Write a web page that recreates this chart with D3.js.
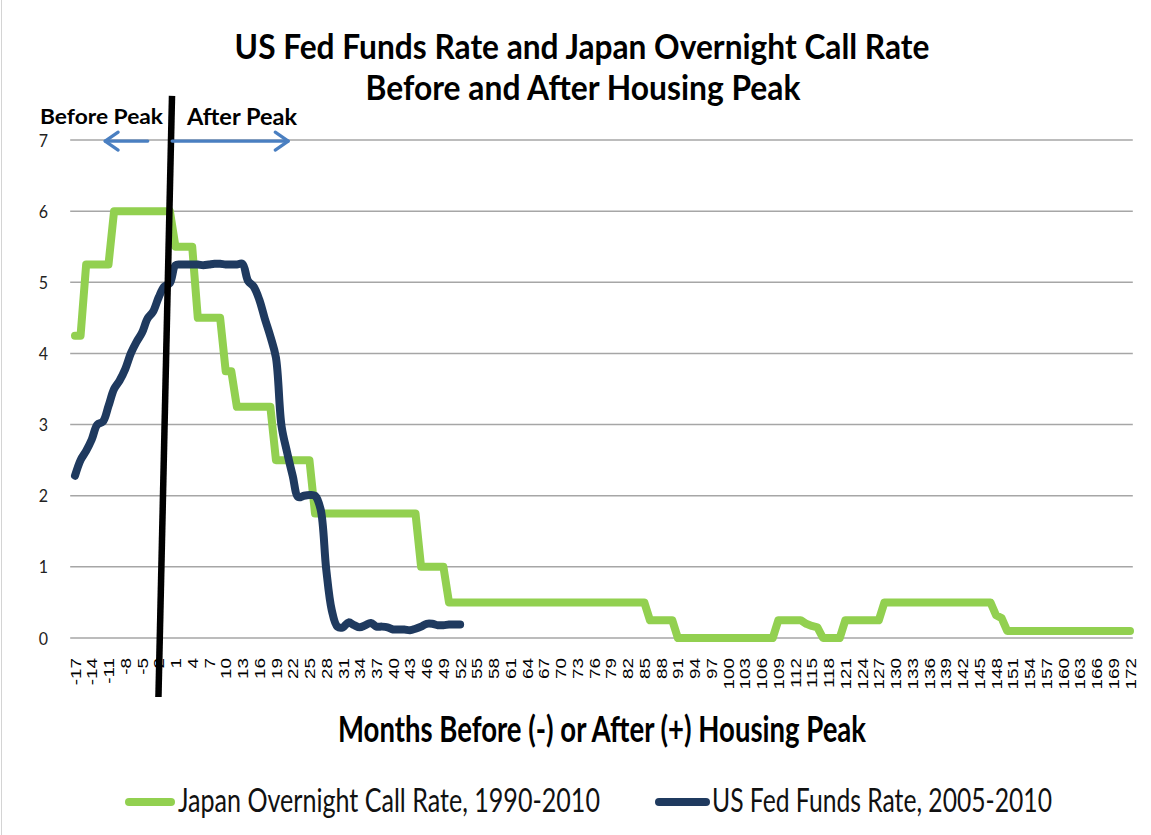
<!DOCTYPE html>
<html><head><meta charset="utf-8">
<script src="https://cdn.jsdelivr.net/npm/d3@7/dist/d3.min.js"></script>
<style>html,body{margin:0;padding:0;background:#fff}svg{display:block}</style>
</head><body>
<svg id="chart" width="1151" height="835"></svg>
<script>
// ---------------- DATA ----------------
// Months before (-) or after (+) the housing peak
const months = [
 -17,-16,-15,-14,-13,-12,-11,-10,-9,-8,
 -7,-6,-5,-4,-3,-2,-1,0,1,2,
 3,4,5,6,7,8,9,10,11,12,
 13,14,15,16,17,18,19,20,21,22,
 23,24,25,26,27,28,29,30,31,32,
 33,34,35,36,37,38,39,40,41,42,
 43,44,45,46,47,48,49,50,51,52,
 53,54,55,56,57,58,59,60,61,62,
 63,64,65,66,67,68,69,70,71,72,
 73,74,75,76,77,78,79,80,81,82,
 83,84,85,86,87,88,89,90,91,92,
 93,94,95,96,97,98,99,100,101,102,
 103,104,105,106,107,108,109,110,111,112,
 113,114,115,116,117,118,119,120,121,122,
 123,124,125,126,127,128,129,130,131,132,
 133,134,135,136,137,138,139,140,141,142,
 143,144,145,146,147,148,149,150,151,152,
 153,154,155,156,157,158,159,160,161,162,
 163,164,165,166,167,168,169,170,171,172
];

// Japan overnight call rate, 1990-2010 (one value per month above)
const japanRate = [
 4.25,4.25,5.25,5.25,5.25,5.25,5.25,6,6,6,
 6,6,6,6,6,6,6,6,5.5,5.5,
 5.5,5.5,4.5,4.5,4.5,4.5,4.5,3.75,3.75,3.25,
 3.25,3.25,3.25,3.25,3.25,3.25,2.5,2.5,2.5,2.5,
 2.5,2.5,2.5,1.75,1.75,1.75,1.75,1.75,1.75,1.75,
 1.75,1.75,1.75,1.75,1.75,1.75,1.75,1.75,1.75,1.75,
 1.75,1.75,1,1,1,1,1,0.5,0.5,0.5,
 0.5,0.5,0.5,0.5,0.5,0.5,0.5,0.5,0.5,0.5,
 0.5,0.5,0.5,0.5,0.5,0.5,0.5,0.5,0.5,0.5,
 0.5,0.5,0.5,0.5,0.5,0.5,0.5,0.5,0.5,0.5,
 0.5,0.5,0.5,0.25,0.25,0.25,0.25,0.25,0,0,
 0,0,0,0,0,0,0,0,0,0,
 0,0,0,0,0,0,0.25,0.25,0.25,0.25,
 0.25,0.2,0.17,0.15,0,0,0,0,0.25,0.25,
 0.25,0.25,0.25,0.25,0.25,0.5,0.5,0.5,0.5,0.5,
 0.5,0.5,0.5,0.5,0.5,0.5,0.5,0.5,0.5,0.5,
 0.5,0.5,0.5,0.5,0.5,0.32,0.28,0.1,0.1,0.1,
 0.1,0.1,0.1,0.1,0.1,0.1,0.1,0.1,0.1,0.1,
 0.1,0.1,0.1,0.1,0.1,0.1,0.1,0.1,0.1,0.1
];

// US fed funds rate, 2005-2010 (months -17 .. 52)
const usRate = [
 2.28,2.50,2.63,2.79,3.00,3.04,3.26,3.50,3.62,3.78,4.00,4.16,
 4.29,4.49,4.59,4.79,4.94,4.99,5.24,5.25,5.25,5.25,5.25,5.24,
 5.25,5.26,5.26,5.25,5.25,5.25,5.26,5.02,4.94,4.76,4.49,4.24,
 3.94,2.98,2.61,2.28,1.98,2.00,2.01,2.00,1.81,0.97,0.39,0.16,
 0.15,0.22,0.18,0.15,0.18,0.21,0.16,0.16,0.15,0.12,0.12,0.12,
 0.11,0.13,0.16,0.20,0.20,0.18,0.18,0.19,0.19,0.19
];

const yTicks = [0,1,2,3,4,5,6,7];
const seriesNames = ["Japan Overnight Call Rate, 1990-2010", "US Fed Funds Rate, 2005-2010"];
const titleLines = ["US Fed Funds Rate and Japan Overnight Call Rate", "Before and After Housing Peak"];
const xTitle = "Months Before (-) or After (+) Housing Peak";
const beforeLabel = "Before Peak", afterLabel = "After Peak";

// ---------------- LAYOUT ----------------
const W = 1151, H = 835;
const plot = {left: 72.2, right: 1132.8, top: 140, bottom: 638};
const S = 1.3;            // vertical stretch of the reference's text
const GREEN = "#92d050", NAVY = "#1f3a5f", ARROW = "#4a7fc1";

const svg = d3.select("#chart");
svg.append("rect").attr("width", W).attr("height", H).attr("fill", "#fff");
svg.append("line").attr("x1", 1.5).attr("x2", 1.5).attr("y1", 0).attr("y2", H)
   .attr("stroke", "#d4d4d4").attr("stroke-width", 1);

const x = d3.scalePoint().domain(months).range([plot.left, plot.right]).padding(0.5);
const step = x.step();
const xm = m => x(0) + m * step;          // continuous month position (for annotations)
const y = d3.scaleLinear().domain([0, 7]).range([plot.bottom, plot.top]);

// text helper: stretched vertically like the reference; optional fit-to-width
function label(parent, px, py, str, o) {
  const g = parent.append("g").attr("transform", `translate(${px},${py}) scale(1,${o.stretch || S})`);
  const t = g.append("text")
    .attr("text-anchor", o.anchor || "start")
    .attr("font-family", o.family || "Lato, 'Open Sans', sans-serif")
    .attr("font-weight", o.weight || "normal")
    .attr("font-size", o.size)
    .attr("fill", o.fill || "#000")
    .text(str);
  if (o.width) {
    const w = t.node().getComputedTextLength();
    if (w > 0) t.attr("font-size", o.size * o.width / w);
  }
  return t;
}

// gridlines
svg.append("g").selectAll("line").data(yTicks).join("line")
  .attr("x1", plot.left - 2).attr("x2", plot.right)
  .attr("y1", d => y(d)).attr("y2", d => y(d))
  .attr("stroke", "#a6a6a6").attr("stroke-width", 1.5);

// y labels
const yl = svg.append("g");
yTicks.forEach(v => label(yl, 48, y(v) + 6.5, String(v), {anchor: "end", size: 16, stretch: 1.12, fill: "#222"}));

// x axis labels (every 3rd month)
const xTickVals = months.filter((d, i) => i % 3 === 0);
const xAxis = d3.axisBottom(x).tickValues(xTickVals).tickSize(0).tickPadding(0);
const gx = svg.append("g").attr("transform", `translate(0,${plot.bottom})`).call(xAxis);
gx.select(".domain").remove();
gx.selectAll("text")
  .attr("x", 0).attr("y", 0).attr("dy", "0.35em")
  .attr("text-anchor", "end")
  .attr("transform", `translate(0,20) rotate(-90) scale(${S},1)`)
  .attr("font-family", "'Liberation Sans', Arial, sans-serif")
  .attr("font-size", 14.5).attr("fill", "#000");

// series lines
const japanPts = months.map((m, i) => ({m, v: japanRate[i]}));
const usPts = usRate.map((v, i) => ({m: months[i], v}));

svg.append("path").datum(japanPts)
  .attr("d", d3.line().x(d => x(d.m)).y(d => y(d.v)))
  .attr("fill", "none").attr("stroke", GREEN).attr("stroke-width", 8)
  .attr("stroke-linejoin", "round").attr("stroke-linecap", "round");

svg.append("path").datum(usPts)
  .attr("d", d3.line().x(d => x(d.m)).y(d => y(d.v)).curve(d3.curveCatmullRom.alpha(0.5)))
  .attr("fill", "none").attr("stroke", NAVY).attr("stroke-width", 8)
  .attr("stroke-linejoin", "round").attr("stroke-linecap", "round");

// peak marker line (month / rate units)
const peakLine = [{m: 0.38, v: 7.62}, {m: -2.05, v: -0.83}];
svg.append("line")
  .attr("x1", xm(peakLine[0].m)).attr("y1", y(peakLine[0].v))
  .attr("x2", xm(peakLine[1].m)).attr("y2", y(peakLine[1].v))
  .attr("stroke", "#000").attr("stroke-width", 6.5);

// arrows
function arrow(m1, m2, v) {
  const x1 = xm(m1), x2 = xm(m2), yy = y(v);
  const dir = Math.sign(x2 - x1);
  const g = svg.append("g").attr("stroke", ARROW).attr("stroke-width", 3.2)
    .attr("fill", "none").attr("stroke-linecap", "round").attr("stroke-linejoin", "round");
  g.append("line").attr("x1", x1).attr("x2", x2).attr("y1", yy).attr("y2", yy);
  g.append("path").attr("d", `M${x2 - dir * 13},${yy - 9} L${x2},${yy} L${x2 - dir * 13},${yy + 9}`);
}
arrow(-3.96, -11.6, 6.985);
arrow(0.4, 21.2, 6.985);

// annotation texts
label(svg, 40, 124, beforeLabel, {size: 19, weight: "bold", width: 123, stretch: 0.95});
label(svg, 187, 124.5, afterLabel, {size: 19, weight: "bold", width: 110, stretch: 0.95});

// titles
label(svg, 582, 59, titleLines[0], {anchor: "middle", size: 27, weight: "bold", width: 695, stretch: 1.1});
label(svg, 583, 100, titleLines[1], {anchor: "middle", size: 27, weight: "bold", width: 435, stretch: 1.1});
label(svg, 602, 742, xTitle, {anchor: "middle", size: 22, weight: "bold", width: 528});

// legend
const lg = svg.append("g");
const legendItems = [
  {name: seriesNames[0], color: GREEN, x1: 129, x2: 171, tx: 178, tw: 422},
  {name: seriesNames[1], color: NAVY, x1: 659, x2: 706, tx: 712, tw: 340}
];
legendItems.forEach(it => {
  lg.append("line").attr("x1", it.x1).attr("x2", it.x2).attr("y1", 802).attr("y2", 802)
    .attr("stroke", it.color).attr("stroke-width", 8).attr("stroke-linecap", "round");
  label(lg, it.tx, 812, it.name, {size: 22, width: it.tw, fill: "#111"});
});
</script>
</body></html>
